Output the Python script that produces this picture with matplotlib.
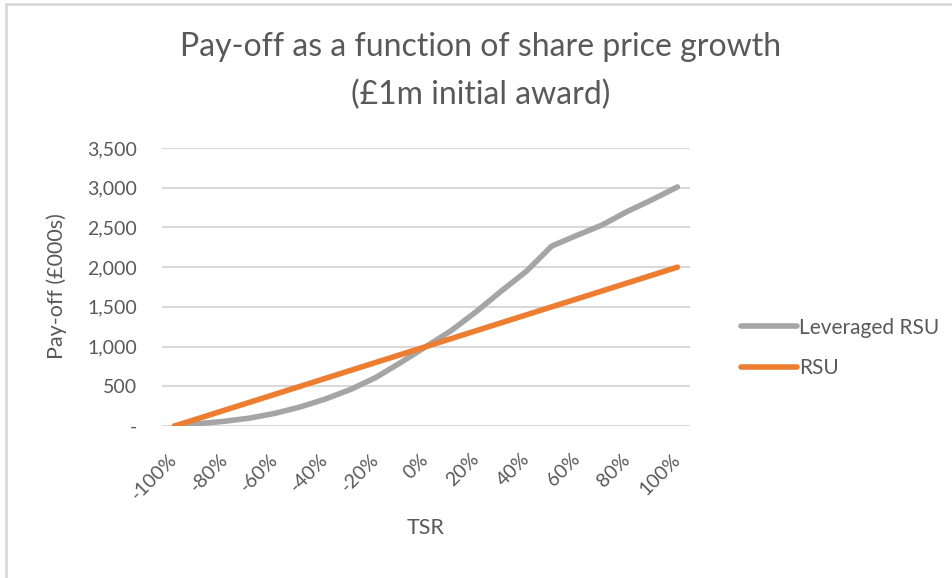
import numpy as np
import matplotlib.pyplot as plt
from matplotlib.patches import Rectangle
from matplotlib.ticker import FuncFormatter

plt.rcParams['font.family'] = ['Lato', 'DejaVu Sans']

# data
tsr = [f"{p}%" for p in range(-100, 101, 10)]
leveraged_rsu = [0, 30, 60, 100, 160, 240, 340, 460, 610, 800, 1000,
                 1200, 1440, 1700, 1950, 2265, 2400, 2530, 2700, 2850, 3010]
rsu = [0, 100, 200, 300, 400, 500, 600, 700, 800, 900, 1000,
       1100, 1200, 1300, 1400, 1500, 1600, 1700, 1800, 1900, 2000]
y_ticks = [0, 500, 1000, 1500, 2000, 2500, 3000, 3500]

text_col = "#595959"
grid_col = "#d9d9d9"

fig = plt.figure(figsize=(9.52, 5.78), dpi=100)
ax = fig.add_axes([162 / 952, 1 - 426 / 578, (690 - 162) / 952, (426 - 148) / 578])

x = np.arange(len(tsr))
ax.plot(x, leveraged_rsu, color="#A5A5A5", linewidth=4, label="Leveraged RSU",
        solid_capstyle="round")
ax.plot(x, rsu, color="#ED7D31", linewidth=4, label="RSU", solid_capstyle="round")

ax.set_xlim(-0.5, len(tsr) - 0.5)
ax.set_ylim(0, 3500)
ax.set_yticks(y_ticks)
ax.yaxis.set_major_formatter(FuncFormatter(lambda v, p: "-" if v == 0 else f"{int(v):,}"))
ax.set_xticks(x[::2])
ax.set_xticklabels(tsr[::2], rotation=45, ha="right", va="center",
                   rotation_mode="anchor")
ax.tick_params(axis="x", length=0, pad=22, labelsize=14, colors=text_col)
ax.tick_params(axis="y", length=0, pad=18, labelsize=14, colors=text_col)

ax.grid(axis="y", color=grid_col, linewidth=1.5)
ax.set_axisbelow(True)
for s in ax.spines.values():
    s.set_visible(False)

ax.set_xlabel("TSR", fontsize=15.5, color=text_col)
ax.xaxis.set_label_coords(0.5, -(528 - 426) / 278, transform=ax.transAxes)
ax.xaxis.label.set_va("center")
fig.text(57 / 952, 1 - 286 / 578, "Pay-off (£000s)", rotation=90,
         ha="center", va="center", fontsize=15.5, color=text_col)

fig.text(0.505, 1 - 47 / 578, "Pay-off as a function of share price growth",
         ha="center", va="center", fontsize=23, color=text_col)
fig.text(0.505, 1 - 95 / 578, "(£1m initial award)",
         ha="center", va="center", fontsize=23, color=text_col)

ax.legend(loc="center left", bbox_to_anchor=(722 / 952, 1 - 348 / 578),
          bbox_transform=fig.transFigure, frameon=False, fontsize=15,
          labelcolor=text_col, handlelength=2.7, handletextpad=0.1,
          labelspacing=1.0)

# chart area border (left and top edges visible)
fig.patches.append(Rectangle((6 / 952, -0.05), 1.0, 1 - 4 / 578 + 0.05,
                             transform=fig.transFigure, fill=False,
                             edgecolor=grid_col, linewidth=2))

fig.savefig("out.png", dpi=100)
